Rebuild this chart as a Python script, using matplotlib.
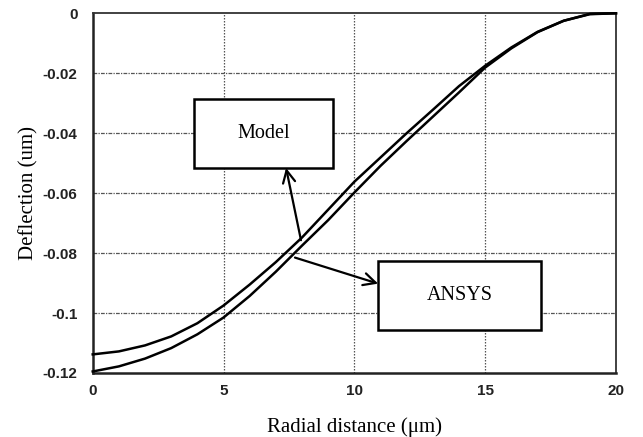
import matplotlib
matplotlib.use("Agg")
import matplotlib.pyplot as plt
from matplotlib.patches import Rectangle

# values
radius = [0, 1, 2, 3, 4, 5, 6, 7, 8, 9, 10, 11, 12, 13, 14, 15, 16, 17, 18, 19, 20]
model = [-0.1138, -0.1128, -0.1108, -0.1078, -0.1034, -0.0975, -0.0905, -0.0830,
         -0.0748, -0.0655, -0.0562, -0.0481, -0.0400, -0.0322, -0.0243, -0.0175,
         -0.0114, -0.0062, -0.0025, -0.0002, 0.0]
ansys = [-0.1195, -0.1178, -0.1152, -0.1117, -0.1071, -0.1015, -0.0943, -0.0862,
         -0.0775, -0.0690, -0.0598, -0.0509, -0.0426, -0.0345, -0.0264, -0.0181,
         -0.0117, -0.0063, -0.0025, -0.0003, 0.0]
xticks = [0, 5, 10, 15, 20]
yticks = [0, -0.02, -0.04, -0.06, -0.08, -0.1, -0.12]
ylabels = ["0", "-0.02", "-0.04", "-0.06", "-0.08", "-0.1", "-0.12"]

serif = "Liberation Serif"
sans = "Liberation Sans"

fig = plt.figure(figsize=(6.43, 4.37), dpi=100)
ax = fig.add_axes([0.1442, 0.1465, 0.8138, 0.8231])

ax.plot(radius, model, color="black", lw=1.8, clip_on=False, zorder=3)
ax.plot(radius, ansys, color="black", lw=1.8, clip_on=False, zorder=3)

ax.set_xlim(0, 20)
ax.set_ylim(-0.12, 0)
ax.set_xticks(xticks)
ax.set_xticklabels([str(t) for t in xticks])
ax.set_yticks(yticks)
ax.set_yticklabels(ylabels)
ax.tick_params(length=0, labelsize=11)
ax.tick_params(axis="y", pad=11)
ax.tick_params(axis="x", pad=8)
for lab in ax.get_xticklabels() + ax.get_yticklabels():
    lab.set_fontfamily(sans)
    lab.set_fontweight("bold")
    lab.set_color("#222222")

# grid: dotted verticals, dash-dot horizontals
for xv in xticks[1:-1]:
    ax.axvline(xv, color="#555555", lw=0.9, ls=(0, (1.2, 1.2)), zorder=1)
for yv in yticks[1:-1]:
    ax.axhline(yv, color="#555555", lw=0.9, ls=(0, (3, 1, 1, 1)), zorder=1)

for side in ["left", "bottom"]:
    ax.spines[side].set_linewidth(1.8)
    ax.spines[side].set_color("#222222")
for side in ["top", "right"]:
    ax.spines[side].set_linewidth(1.3)
    ax.spines[side].set_color("#333333")

ax.set_ylabel("Deflection (um)", fontfamily=serif, fontsize=15, labelpad=3)
ax.set_xlabel("Radial distance (\u03bcm)", fontfamily=serif, fontsize=15, labelpad=14)

# label boxes
ax.add_patch(Rectangle((3.87, -0.0515), 5.31, 0.023, fill=True, facecolor="white",
                       edgecolor="black", lw=1.8, zorder=4))
ax.text(6.52, -0.0402, "Model", ha="center", va="center", fontfamily=serif,
        fontsize=14.5, zorder=5)
ax.add_patch(Rectangle((10.91, -0.1058), 6.21, 0.0232, fill=True, facecolor="white",
                       edgecolor="black", lw=1.8, zorder=4))
ax.text(14.02, -0.0942, "ANSYS", ha="center", va="center", fontfamily=serif,
        fontsize=14.5, zorder=5)

# arrows from curves to boxes
arrow = dict(arrowstyle="->", color="black", lw=1.6, mutation_scale=22,
             shrinkA=0, shrinkB=0)
ax.annotate("", xy=(7.39, -0.0516), xytext=(7.96, -0.0757), arrowprops=arrow, zorder=5)
ax.annotate("", xy=(10.91, -0.0902), xytext=(7.73, -0.0815), arrowprops=arrow, zorder=5)

fig.savefig("out.png", dpi=100)
